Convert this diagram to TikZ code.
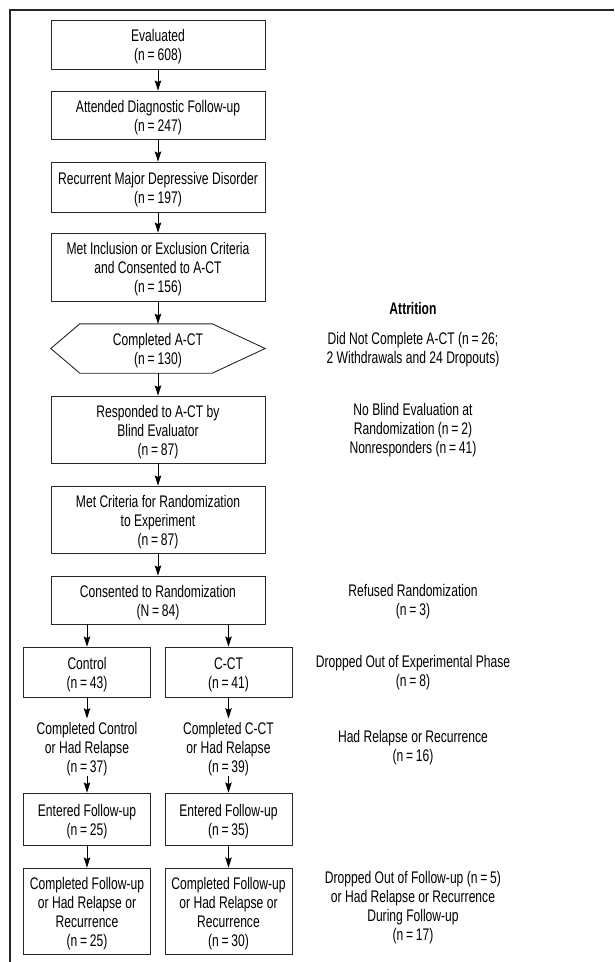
\documentclass[tikz,border=0pt]{standalone}
\usepackage{fontspec}
\setmainfont{Liberation Sans}[FakeStretch=0.72]
\usetikzlibrary{arrows.meta,calc}
\newcommand{\lowtext}[1]{\raisebox{-3pt}[\height][\depth]{\begin{tabular}{@{}c@{}}#1\end{tabular}}}
\begin{document}
\begin{tikzpicture}[x=1pt,y=-1pt,
  every node/.style={font=\fontsize{16.8}{19}\selectfont, align=center, inner sep=0pt},
  box/.style={draw=black!85, line width=0.9pt, minimum width=214pt},
  sbox/.style={draw=black!85, line width=0.9pt, minimum width=127pt},
  plain/.style={minimum width=127pt},
  side/.style={},
  arr/.style={-{Stealth[length=10pt,width=6.5pt,inset=1.5pt]}, line width=1pt, black}]
\useasboundingbox (0,0) rectangle (614,962);
\draw[line width=1.3pt, black!85] (10,962) -- (10,10) -- (614,10);

\node[box, minimum height=49pt] (b1) at (158,44.5) {\lowtext{Evaluated\\(n\,=\,608)}};
\node[box, minimum height=48pt] (b2) at (158,115) {\lowtext{Attended Diagnostic Follow-up\\(n\,=\,247)}};
\node[box, minimum height=50pt] (b3) at (158,187) {\lowtext{Recurrent Major Depressive Disorder\\(n\,=\,197)}};
\node[box, minimum height=68pt] (b4) at (158,267) {\lowtext{Met Inclusion or Exclusion Criteria\\and Consented to A-CT\\(n\,=\,156)}};
\node[minimum width=214pt, minimum height=49pt] (hex) at (158,348.5) {\lowtext{Completed A-CT\\(n\,=\,130)}};
\draw[black!85, line width=0.9pt] (hex.west) -- ([xshift=29pt]hex.north west) -- ([xshift=-53pt]hex.north east) -- (hex.east) -- ([xshift=-53pt]hex.south east) -- ([xshift=29pt]hex.south west) -- cycle;
\node[box, minimum height=67pt] (b5) at (158,429.5) {\lowtext{Responded to A-CT by\\Blind Evaluator\\(n\,=\,87)}};
\node[box, minimum height=67pt] (b6) at (158,519.5) {\lowtext{Met Criteria for Randomization\\to Experiment\\(n\,=\,87)}};
\node[box, minimum height=48pt] (b7) at (158,600) {\lowtext{Consented to Randomization\\(N\,=\,84)}};

\node[sbox, minimum height=50pt] (ctl) at (87,672) {\lowtext{Control\\(n\,=\,43)}};
\node[sbox, minimum height=50pt] (cct) at (228.5,672) {\lowtext{C-CT\\(n\,=\,41)}};
\node[plain, minimum height=57pt] (cc1) at (87,747) {\lowtext{Completed Control\\or Had Relapse\\(n\,=\,37)}};
\node[plain, minimum height=57pt] (cc2) at (228.5,747) {\lowtext{Completed C-CT\\or Had Relapse\\(n\,=\,39)}};
\node[sbox, minimum height=52pt] (ef1) at (87,819) {\lowtext{Entered Follow-up\\(n\,=\,25)}};
\node[sbox, minimum height=52pt] (ef2) at (228.5,819) {\lowtext{Entered Follow-up\\(n\,=\,35)}};
\node[sbox, minimum height=86pt] (cf1) at (87,911) {\lowtext{Completed Follow-up\\or Had Relapse or\\Recurrence\\(n\,=\,25)}};
\node[sbox, minimum height=86pt] (cf2) at (228.5,911) {\lowtext{Completed Follow-up\\or Had Relapse or\\Recurrence\\(n\,=\,30)}};

\draw[arr] (b1) -- (b2);
\draw[arr] (b2) -- (b3);
\draw[arr] (b3) -- (b4);
\draw[arr] (b4) -- (hex);
\draw[arr] (hex) -- (b5);
\draw[arr] (b5) -- (b6);
\draw[arr] (b6) -- (b7);
\draw[arr] (b7.south -| ctl) -- (ctl.north);
\draw[arr] (b7.south -| cct) -- (cct.north);
\draw[arr] (ctl) -- (cc1);
\draw[arr] (cct) -- (cc2);
\draw[arr] (cc1) -- (ef1);
\draw[arr] (cc2) -- (ef2);
\draw[arr] (ef1) -- (cf1);
\draw[arr] (ef2) -- (cf2);

\node[side, font=\fontsize{16.8}{19}\selectfont\bfseries] (att) at (413,308) {Attrition};
\node[side] (a1) at (413,349.5) {Did Not Complete A-CT (n\,=\,26;\\2 Withdrawals and 24 Dropouts)};
\node[side] (a2) at (413,430.5) {No Blind Evaluation at\\Randomization (n\,=\,2)\\Nonresponders (n\,=\,41)};
\node[side] (a3) at (413,601.5) {Refused Randomization\\(n\,=\,3)};
\node[side] (a4) at (413,672.5) {Dropped Out of Experimental Phase\\(n\,=\,8)};
\node[side] (a5) at (413,747.5) {Had Relapse or Recurrence\\(n\,=\,16)};
\node[side] (a6) at (413,908) {Dropped Out of Follow-up (n\,=\,5)\\or Had Relapse or Recurrence\\During Follow-up\\(n\,=\,17)};
\end{tikzpicture}
\end{document}
